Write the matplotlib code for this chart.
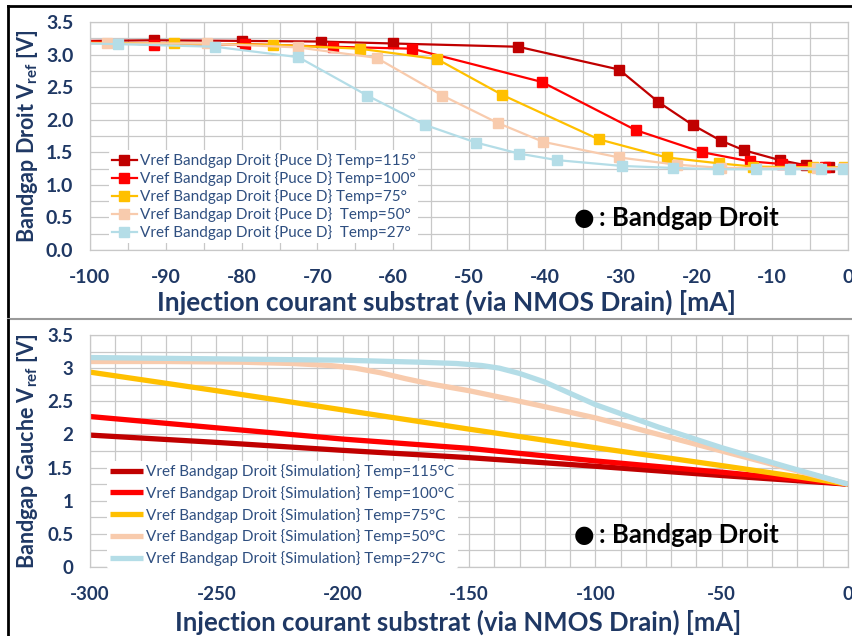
import matplotlib
matplotlib.use("Agg")
import matplotlib.pyplot as plt
from matplotlib.lines import Line2D

plt.rcParams['font.family'] = ['Lato', 'DejaVu Sans']
plt.rcParams['mathtext.default'] = 'regular'
plt.rcParams['axes.unicode_minus'] = False

# measured Vref (Puce D), injection current in mA
mes_115_x = [-100, -91.5, -80, -69.5, -60, -43.5, -30.2, -25, -20.5, -16.8, -13.7, -9, -5.5, -2.5]
mes_115_y = [3.21, 3.22, 3.21, 3.20, 3.17, 3.12, 2.77, 2.27, 1.92, 1.68, 1.53, 1.38, 1.30, 1.27]
mes_100_x = [-100, -91.5, -79.5, -68, -57.5, -40.4, -28, -19.2, -12.9, -8.7, -3]
mes_100_y = [3.20, 3.15, 3.16, 3.12, 3.09, 2.58, 1.84, 1.50, 1.36, 1.32, 1.28]
mes_75_x = [-100, -88.9, -75.8, -64.4, -54.2, -45.6, -32.9, -23.9, -17.0, -12.5, -4.6, -0.5]
mes_75_y = [3.18, 3.17, 3.15, 3.09, 2.93, 2.38, 1.70, 1.42, 1.33, 1.28, 1.27, 1.27]
mes_50_x = [-100, -97.8, -84.6, -72.6, -62.2, -53.5, -46.2, -40.2, -30.2, -22.6, -16.7, -4.1, -0.5]
mes_50_y = [3.17, 3.17, 3.17, 3.11, 2.95, 2.37, 1.95, 1.66, 1.42, 1.31, 1.26, 1.26, 1.26]
mes_27_x = [-100, -96.3, -83.5, -72.5, -63.4, -55.8, -49.1, -43.4, -38.4, -29.8, -23.1, -17.2, -12.1, -7.6, -3.5, -0.7]
mes_27_y = [3.17, 3.16, 3.12, 2.96, 2.37, 1.92, 1.65, 1.48, 1.38, 1.29, 1.26, 1.24, 1.24, 1.24, 1.24, 1.24]

# simulated Vref
sim_x = [-300, -250, -200, -150, -100, -50, 0]
sim_115_y = [1.99, 1.88, 1.76, 1.65, 1.52, 1.38, 1.25]
sim_100_y = [2.27, 2.10, 1.93, 1.79, 1.60, 1.43, 1.25]
sim_75_y = [2.94, 2.66, 2.37, 2.08, 1.80, 1.53, 1.25]
sim_50_x = [-300, -270, -240, -220, -205, -195, -185, -175, -165, -150, -125, -100, -75, -50, -25, 0]
sim_50_y = [3.10, 3.10, 3.09, 3.07, 3.04, 3.00, 2.93, 2.84, 2.76, 2.66, 2.46, 2.25, 2.00, 1.75, 1.50, 1.25]
sim_27_x = [-300, -250, -200, -170, -155, -145, -138, -130, -120, -110, -100, -75, -50, -25, 0]
sim_27_y = [3.16, 3.14, 3.12, 3.09, 3.07, 3.04, 3.00, 2.92, 2.79, 2.62, 2.45, 2.11, 1.80, 1.52, 1.25]

temps_mes = ['115°', '100°', '75°', '50°', '27°']
temps_sim = ['115°C', '100°C', '75°C', '50°C', '27°C']
colors = ['#C00000', '#FF0000', '#FFC000', '#F8CBAD', '#B4DDE7']

navy = '#1F3864'
leg_col = '#2F4F80'

fig = plt.figure(figsize=(8.52, 6.36), dpi=100)
W, H = 852, 636


def px_axes(x0, y0, x1, y1):
    return fig.add_axes([x0 / W, 1 - y1 / H, (x1 - x0) / W, (y1 - y0) / H])


def style_axes(ax, size):
    ax.set_axisbelow(True)
    ax.grid(True, which='both', color='#C8C8C8', lw=0.9)
    for s in ax.spines.values():
        s.set_color('#C8C8C8')
        s.set_linewidth(0.9)
    ax.tick_params(which='both', length=0, colors=navy, labelsize=size)
    ax.tick_params(axis='x', pad=14)
    ax.tick_params(axis='y', pad=12)
    for lab in ax.get_xticklabels() + ax.get_yticklabels():
        lab.set_fontweight('bold')


def add_note(ax):
    ax.text(0.652, 0.14, '●', transform=ax.transAxes, fontsize=17, color='black',
            ha='center', va='center', family='DejaVu Sans')
    ax.text(0.672, 0.14, ': Bandgap Droit', transform=ax.transAxes, fontsize=18.5,
            fontweight='bold', color='black', ha='left', va='center')


# ---- top panel: measurements ----
ax1 = px_axes(90, 22, 848, 250)
mes = [(mes_115_x, mes_115_y), (mes_100_x, mes_100_y), (mes_75_x, mes_75_y),
       (mes_50_x, mes_50_y), (mes_27_x, mes_27_y)]
handles = []
for (xs, ys), c, t in zip(mes, colors, temps_mes):
    ax1.plot(xs, ys, color=c, lw=1.6, marker='s', ms=7, markevery=slice(1, None))
    space = ' ' if t in ('50°', '27°') else ''
    handles.append(Line2D([], [], color=c, lw=1.6, marker='s', ms=7,
                          label='Vref Bandgap Droit {Puce D} ' + space + 'Temp=' + t))
ax1.set_xlim(-100, 0)
ax1.set_ylim(0, 3.5)
ax1.set_xticks(range(-100, 1, 10))
ax1.set_xticks(range(-95, 0, 10), minor=True)
ax1.set_yticks([i * 0.5 for i in range(8)])
ax1.set_yticks([0.25 + i * 0.5 for i in range(7)], minor=True)
ax1.set_yticklabels(['%.1f' % (i * 0.5) for i in range(8)])
style_axes(ax1, 14)
leg1 = ax1.legend(handles=handles, loc='upper left', bbox_to_anchor=(0.015, 0.47),
                  fontsize=11, frameon=True, framealpha=1, edgecolor='none',
                  handlelength=1.6, handletextpad=0.2, labelspacing=0.2, borderpad=0.2)
for t in leg1.get_texts():
    t.set_color(leg_col)
add_note(ax1)
ax1.set_xlabel('Injection courant substrat (via NMOS Drain) [mA]', fontsize=19,
               fontweight='bold', color=navy)
ax1.xaxis.set_label_coords(0.47, -0.175)
ax1.set_ylabel(r'Bandgap Droit V$_{ref}$ [V]', fontsize=15.5, fontweight='bold',
               color=navy)
ax1.yaxis.set_label_coords(-0.066, 0.5)

# ---- bottom panel: simulations ----
ax2 = px_axes(90, 335, 848, 567)
sims = [(sim_x, sim_115_y), (sim_x, sim_100_y), (sim_x, sim_75_y),
        (sim_50_x, sim_50_y), (sim_27_x, sim_27_y)]
for (xs, ys), c, t in zip(sims, colors, temps_sim):
    ax2.plot(xs, ys, color=c, lw=3.8, solid_capstyle='butt', solid_joinstyle='round',
             label='Vref Bandgap Droit {Simulation} Temp=' + t)
ax2.set_xlim(-300, 0)
ax2.set_ylim(0, 3.5)
ax2.set_xticks(range(-300, 1, 50))
ax2.set_xticks(range(-290, 0, 10), minor=True)
ax2.set_yticks([i * 0.5 for i in range(8)])
ax2.set_yticks([0.25 + i * 0.5 for i in range(7)], minor=True)
ax2.set_yticklabels(['0', '0.5', '1', '1.5', '2', '2.5', '3', '3.5'])
style_axes(ax2, 13.5)
leg2 = ax2.legend(loc='upper left', bbox_to_anchor=(0.012, 0.49),
                  fontsize=11, frameon=True, framealpha=1, edgecolor='none',
                  handlelength=2.2, handletextpad=0.2, labelspacing=0.45, borderpad=0.2)
for t in leg2.get_texts():
    t.set_color(leg_col)
add_note(ax2)
ax2.set_xlabel('Injection courant substrat (via NMOS Drain) [mA]', fontsize=18.5,
               fontweight='bold', color=navy)
ax2.xaxis.set_label_coords(0.485, -0.182)
ax2.set_ylabel(r'Bandgap Gauche V$_{ref}$ [V]', fontsize=15.5, fontweight='bold',
               color=navy)
ax2.yaxis.set_label_coords(-0.066, 0.5)

# panel frames
fig.add_artist(Line2D([8 / W, 1], [1 - 6 / H, 1 - 6 / H], color='black', lw=2))
fig.add_artist(Line2D([8 / W, 8 / W], [1 - 6 / H, 1 - 318 / H], color='black', lw=2))
fig.add_artist(Line2D([8 / W, 1], [1 - 319 / H, 1 - 319 / H], color='#9A9A9A', lw=1.5))
fig.add_artist(Line2D([8 / W, 8 / W], [1 - 320 / H, 0], color='black', lw=2))

fig.savefig('out.png', dpi=100)
